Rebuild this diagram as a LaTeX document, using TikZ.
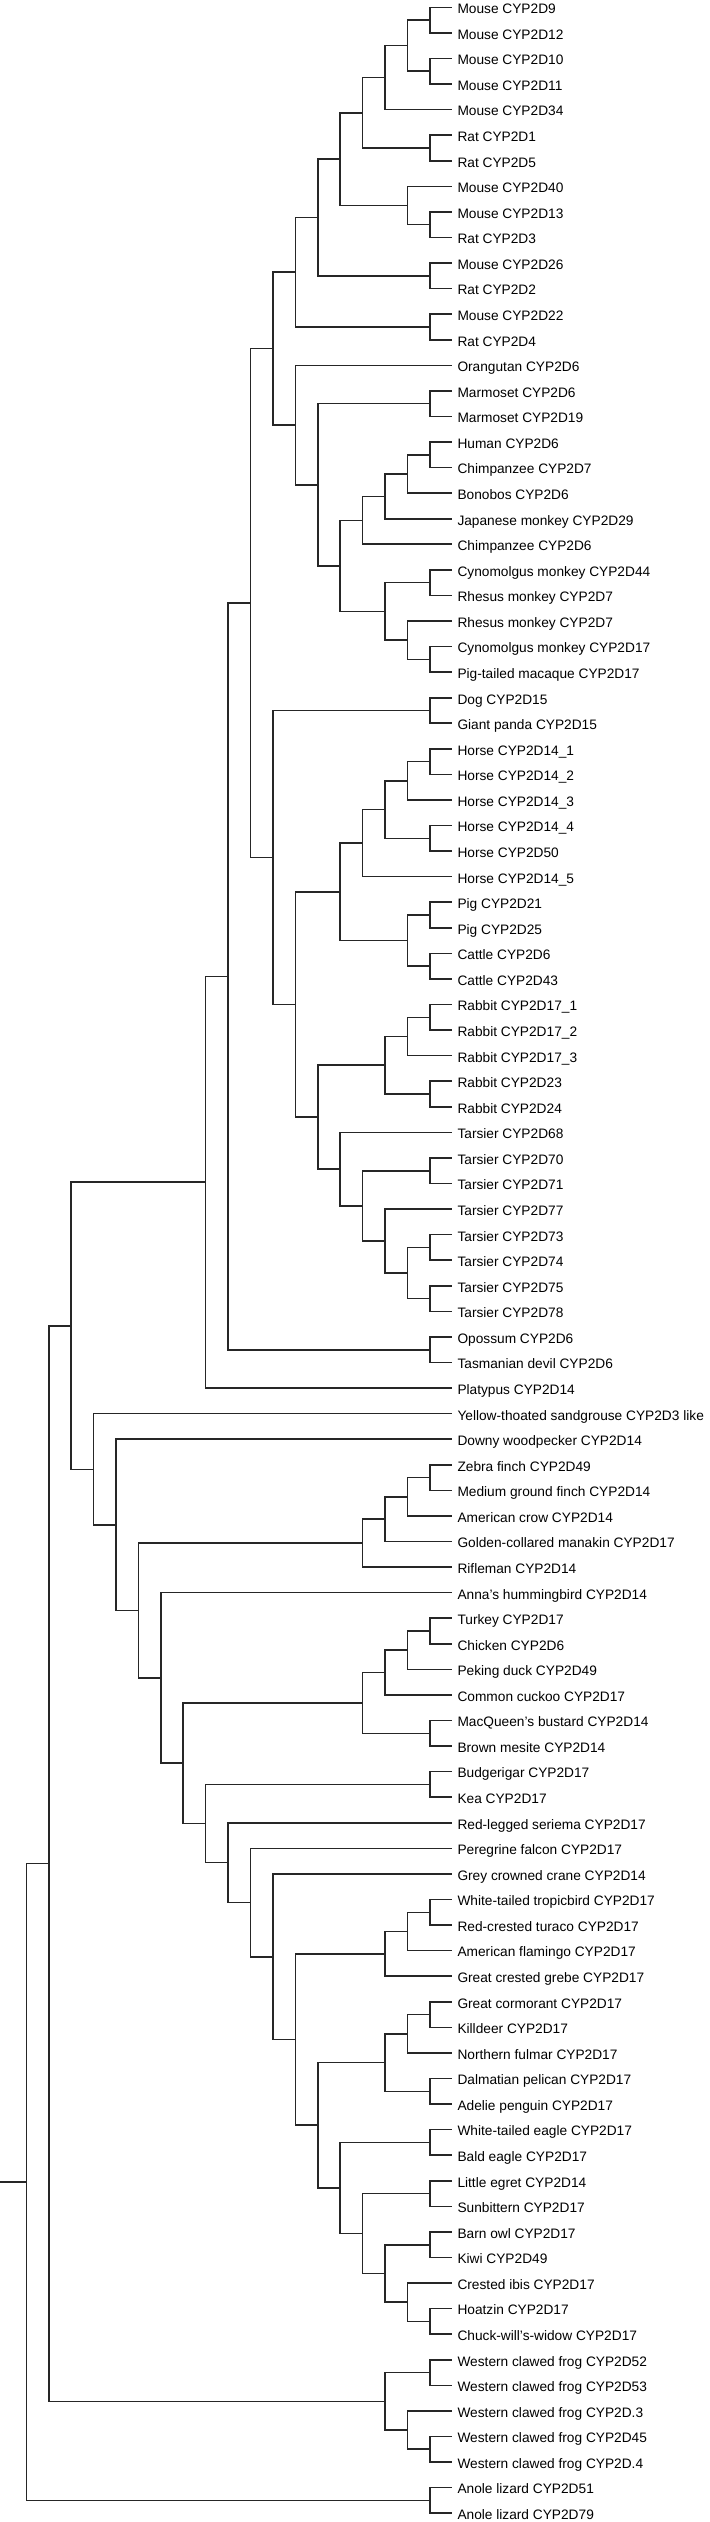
\documentclass[tikz,border=0pt]{standalone}
\usepackage{fontspec}
\setmainfont{Liberation Sans}
\tikzset{
  leaf/.style={anchor=west, inner xsep=0.1cm, inner ysep=0pt, text height=0.72em, text depth=0pt,
    font=\fontsize{7.8}{9}\selectfont},
  branch/.style={line width=0.9pt, draw=black!85}
}
\begin{document}
\begin{tikzpicture}[x=0.02cm, y=-0.51132cm]
			\useasboundingbox (0,0.7145) rectangle (709,99.345);
			\def\lx{452}
			\def\st{22.4}
			
			%Leaves
			\node[leaf] (L1) at (\lx,1) {Mouse CYP2D9};
			\node[leaf] (L2) at (\lx,2) {Mouse CYP2D12};
			\node[leaf] (L3) at (\lx,3) {Mouse CYP2D10};
			\node[leaf] (L4) at (\lx,4) {Mouse CYP2D11};
			\node[leaf] (L5) at (\lx,5) {Mouse CYP2D34};
			\node[leaf] (L6) at (\lx,6) {Rat CYP2D1};
			\node[leaf] (L7) at (\lx,7) {Rat CYP2D5};
			\node[leaf] (L8) at (\lx,8) {Mouse CYP2D40};
			\node[leaf] (L9) at (\lx,9) {Mouse CYP2D13};
			\node[leaf] (L10) at (\lx,10) {Rat CYP2D3};
			\node[leaf] (L11) at (\lx,11) {Mouse CYP2D26};
			\node[leaf] (L12) at (\lx,12) {Rat CYP2D2};
			\node[leaf] (L13) at (\lx,13) {Mouse CYP2D22};
			\node[leaf] (L14) at (\lx,14) {Rat CYP2D4};
			\node[leaf] (L15) at (\lx,15) {Orangutan CYP2D6};
			\node[leaf] (L16) at (\lx,16) {Marmoset CYP2D6};
			\node[leaf] (L17) at (\lx,17) {Marmoset CYP2D19};
			\node[leaf] (L18) at (\lx,18) {Human CYP2D6};
			\node[leaf] (L19) at (\lx,19) {Chimpanzee CYP2D7};
			\node[leaf] (L20) at (\lx,20) {Bonobos CYP2D6};
			\node[leaf] (L21) at (\lx,21) {Japanese monkey CYP2D29};
			\node[leaf] (L22) at (\lx,22) {Chimpanzee CYP2D6};
			\node[leaf] (L23) at (\lx,23) {Cynomolgus monkey CYP2D44};
			\node[leaf] (L24) at (\lx,24) {Rhesus monkey CYP2D7};
			\node[leaf] (L25) at (\lx,25) {Rhesus monkey CYP2D7};
			\node[leaf] (L26) at (\lx,26) {Cynomolgus monkey CYP2D17};
			\node[leaf] (L27) at (\lx,27) {Pig-tailed macaque CYP2D17};
			\node[leaf] (L28) at (\lx,28) {Dog CYP2D15};
			\node[leaf] (L29) at (\lx,29) {Giant panda CYP2D15};
			\node[leaf] (L30) at (\lx,30) {Horse CYP2D14\_1};
			\node[leaf] (L31) at (\lx,31) {Horse CYP2D14\_2};
			\node[leaf] (L32) at (\lx,32) {Horse CYP2D14\_3};
			\node[leaf] (L33) at (\lx,33) {Horse CYP2D14\_4};
			\node[leaf] (L34) at (\lx,34) {Horse CYP2D50};
			\node[leaf] (L35) at (\lx,35) {Horse CYP2D14\_5};
			\node[leaf] (L36) at (\lx,36) {Pig CYP2D21};
			\node[leaf] (L37) at (\lx,37) {Pig CYP2D25};
			\node[leaf] (L38) at (\lx,38) {Cattle CYP2D6};
			\node[leaf] (L39) at (\lx,39) {Cattle CYP2D43};
			\node[leaf] (L40) at (\lx,40) {Rabbit CYP2D17\_1};
			\node[leaf] (L41) at (\lx,41) {Rabbit CYP2D17\_2};
			\node[leaf] (L42) at (\lx,42) {Rabbit CYP2D17\_3};
			\node[leaf] (L43) at (\lx,43) {Rabbit CYP2D23};
			\node[leaf] (L44) at (\lx,44) {Rabbit CYP2D24};
			\node[leaf] (L45) at (\lx,45) {Tarsier CYP2D68};
			\node[leaf] (L46) at (\lx,46) {Tarsier CYP2D70};
			\node[leaf] (L47) at (\lx,47) {Tarsier CYP2D71};
			\node[leaf] (L48) at (\lx,48) {Tarsier CYP2D77};
			\node[leaf] (L49) at (\lx,49) {Tarsier CYP2D73};
			\node[leaf] (L50) at (\lx,50) {Tarsier CYP2D74};
			\node[leaf] (L51) at (\lx,51) {Tarsier CYP2D75};
			\node[leaf] (L52) at (\lx,52) {Tarsier CYP2D78};
			\node[leaf] (L53) at (\lx,53) {Opossum CYP2D6};
			\node[leaf] (L54) at (\lx,54) {Tasmanian devil CYP2D6};
			\node[leaf] (L55) at (\lx,55) {Platypus CYP2D14};
			\node[leaf] (L56) at (\lx,56) {Yellow-thoated sandgrouse CYP2D3 like};
			\node[leaf] (L57) at (\lx,57) {Downy woodpecker CYP2D14};
			\node[leaf] (L58) at (\lx,58) {Zebra finch CYP2D49};
			\node[leaf] (L59) at (\lx,59) {Medium ground finch CYP2D14};
			\node[leaf] (L60) at (\lx,60) {American crow CYP2D14};
			\node[leaf] (L61) at (\lx,61) {Golden-collared manakin CYP2D17};
			\node[leaf] (L62) at (\lx,62) {Rifleman CYP2D14};
			\node[leaf] (L63) at (\lx,63) {Anna’s hummingbird CYP2D14};
			\node[leaf] (L64) at (\lx,64) {Turkey CYP2D17};
			\node[leaf] (L65) at (\lx,65) {Chicken CYP2D6};
			\node[leaf] (L66) at (\lx,66) {Peking duck CYP2D49};
			\node[leaf] (L67) at (\lx,67) {Common cuckoo CYP2D17};
			\node[leaf] (L68) at (\lx,68) {MacQueen’s bustard CYP2D14};
			\node[leaf] (L69) at (\lx,69) {Brown mesite CYP2D14};
			\node[leaf] (L70) at (\lx,70) {Budgerigar CYP2D17};
			\node[leaf] (L71) at (\lx,71) {Kea CYP2D17};
			\node[leaf] (L72) at (\lx,72) {Red-legged seriema CYP2D17};
			\node[leaf] (L73) at (\lx,73) {Peregrine falcon CYP2D17};
			\node[leaf] (L74) at (\lx,74) {Grey crowned crane CYP2D14};
			\node[leaf] (L75) at (\lx,75) {White-tailed tropicbird CYP2D17};
			\node[leaf] (L76) at (\lx,76) {Red-crested turaco CYP2D17};
			\node[leaf] (L77) at (\lx,77) {American flamingo CYP2D17};
			\node[leaf] (L78) at (\lx,78) {Great crested grebe CYP2D17};
			\node[leaf] (L79) at (\lx,79) {Great cormorant CYP2D17};
			\node[leaf] (L80) at (\lx,80) {Killdeer CYP2D17};
			\node[leaf] (L81) at (\lx,81) {Northern fulmar CYP2D17};
			\node[leaf] (L82) at (\lx,82) {Dalmatian pelican CYP2D17};
			\node[leaf] (L83) at (\lx,83) {Adelie penguin CYP2D17};
			\node[leaf] (L84) at (\lx,84) {White-tailed eagle CYP2D17};
			\node[leaf] (L85) at (\lx,85) {Bald eagle CYP2D17};
			\node[leaf] (L86) at (\lx,86) {Little egret CYP2D14};
			\node[leaf] (L87) at (\lx,87) {Sunbittern CYP2D17};
			\node[leaf] (L88) at (\lx,88) {Barn owl CYP2D17};
			\node[leaf] (L89) at (\lx,89) {Kiwi CYP2D49};
			\node[leaf] (L90) at (\lx,90) {Crested ibis CYP2D17};
			\node[leaf] (L91) at (\lx,91) {Hoatzin CYP2D17};
			\node[leaf] (L92) at (\lx,92) {Chuck-will’s-widow CYP2D17};
			\node[leaf] (L93) at (\lx,93) {Western clawed frog CYP2D52};
			\node[leaf] (L94) at (\lx,94) {Western clawed frog CYP2D53};
			\node[leaf] (L95) at (\lx,95) {Western clawed frog CYP2D.3};
			\node[leaf] (L96) at (\lx,96) {Western clawed frog CYP2D45};
			\node[leaf] (L97) at (\lx,97) {Western clawed frog CYP2D.4};
			\node[leaf] (L98) at (\lx,98) {Anole lizard CYP2D51};
			\node[leaf] (L99) at (\lx,99) {Anole lizard CYP2D79};
			
			%Rodents
			\coordinate (N1-2) at (\lx-\st, 1.5);
			\coordinate (N3-4) at (\lx-\st, 3.5);
			\coordinate (N1-4) at (\lx-2*\st, 2.5);
			\coordinate (N1-5) at (\lx-3*\st, 3.75);
			\coordinate (N6-7) at (\lx-\st, 6.5);
			\coordinate (N1-7) at (\lx-4*\st, 5.125);
			\coordinate (N9-10) at (\lx-\st, 9.5);
			\coordinate (N8-10) at (\lx-2*\st, 8.75);
			\coordinate (N1-10) at (\lx-5*\st, 6.9375);
			\coordinate (N11-12) at (\lx-\st, 11.5);
			\coordinate (N1-12) at (\lx-6*\st, 9.21875);
			\coordinate (N13-14) at (\lx-\st, 13.5);
			\coordinate (N1-14) at (\lx-7*\st, 11.359375);
			\draw[branch] (N1-2) |- (L1.west) (N1-2) |- (L2.west);
			\draw[branch] (N3-4) |- (L3.west) (N3-4) |- (L4.west);
			\draw[branch] (N1-4) |- (N1-2) (N1-4) |- (N3-4);
			\draw[branch] (N1-5) |- (N1-4) (N1-5) |- (L5.west);
			\draw[branch] (N6-7) |- (L6.west) (N6-7) |- (L7.west);
			\draw[branch] (N1-7) |- (N1-5) (N1-7) |- (N6-7);
			\draw[branch] (N9-10) |- (L9.west) (N9-10) |- (L10.west);
			\draw[branch] (N8-10) |- (L8.west) (N8-10) |- (N9-10);
			\draw[branch] (N1-10) |- (N1-7) (N1-10) |- (N8-10);
			\draw[branch] (N11-12) |- (L11.west) (N11-12) |- (L12.west);
			\draw[branch] (N1-12) |- (N1-10) (N1-12) |- (N11-12);
			\draw[branch] (N13-14) |- (L13.west) (N13-14) |- (L14.west);
			\draw[branch] (N1-14) |- (N1-12) (N1-14) |- (N13-14);
			
			%Primates
			\coordinate (N16-17) at (\lx-\st, 16.5);
			\coordinate (N18-19) at (\lx-\st, 18.5);
			\coordinate (N18-20) at (\lx-2*\st, 19.25);
			\coordinate (N18-21) at (\lx-3*\st, 20.125);
			\coordinate (N18-22) at (\lx-4*\st, 21.0625);
			\coordinate (N23-24) at (\lx-\st, 23.5);
			\coordinate (N26-27) at (\lx-\st, 26.5);
			\coordinate (N25-27) at (\lx-2*\st, 25.75);
			\coordinate (N23-27) at (\lx-3*\st, 24.625);
			\coordinate (N18-27) at (\lx-5*\st, 22.84375);
			\coordinate (N16-27) at (\lx-6*\st, 19.671875);
			\coordinate (N15-27) at (\lx-7*\st, 17.3359375);
			\coordinate (N1-27) at (\lx-8*\st, 14.34765625);
			\draw[branch] (N16-17) |- (L16.west) (N16-17) |- (L17.west);
			\draw[branch] (N18-19) |- (L18.west) (N18-19) |- (L19.west);
			\draw[branch] (N18-20) |- (N18-19) (N18-20) |- (L20.west);
			\draw[branch] (N18-21) |- (N18-20) (N18-21) |- (L21.west);
			\draw[branch] (N18-22) |- (N18-21) (N18-22) |- (L22.west);
			\draw[branch] (N23-24) |- (L23.west) (N23-24) |- (L24.west);
			\draw[branch] (N26-27) |- (L26.west) (N26-27) |- (L27.west);
			\draw[branch] (N25-27) |- (L25.west) (N25-27) |- (N26-27);
			\draw[branch] (N23-27) |- (N23-24) (N23-27) |- (N25-27);
			\draw[branch] (N18-27) |- (N18-22) (N18-27) |- (N23-27);
			\draw[branch] (N16-27) |- (N16-17) (N16-27) |- (N18-27);
			\draw[branch] (N15-27) |- (L15.west) (N15-27) |- (N16-27);
			\draw[branch] (N1-27) |- (N1-14) (N1-27) |- (N15-27);
			
			%Other mammals
			\coordinate (N28-29) at (\lx-\st, 28.5);
			\coordinate (N30-31) at (\lx-\st, 30.5);
			\coordinate (N30-32) at (\lx-2*\st, 31.25);
			\coordinate (N33-34) at (\lx-\st, 33.5);
			\coordinate (N30-34) at (\lx-3*\st, 32.375);
			\coordinate (N30-35) at (\lx-4*\st, 33.6875);
			\coordinate (N36-37) at (\lx-\st, 36.5);
			\coordinate (N38-39) at (\lx-\st, 38.5);
			\coordinate (N36-39) at (\lx-2*\st, 37.5);
			\coordinate (N30-39) at (\lx-5*\st, 35.59375);
			\coordinate (N40-41) at (\lx-\st, 40.5);
			\coordinate (N40-42) at (\lx-2*\st, 41.25);
			\coordinate (N43-44) at (\lx-\st, 43.5);
			\coordinate (N40-44) at (\lx-3*\st, 42.375);
			\coordinate (N46-47) at (\lx-\st, 46.5);
			\coordinate (N49-50) at (\lx-\st, 49.5);
			\coordinate (N51-52) at (\lx-\st, 51.5);
			\coordinate (N49-52) at (\lx-2*\st, 50.5);
			\coordinate (N48-52) at (\lx-3*\st, 49.25);
			\coordinate (N46-52) at (\lx-4*\st, 47.875);
			\coordinate (N45-52) at (\lx-5*\st, 46.4375);
			\coordinate (N40-52) at (\lx-6*\st, 44.40625);
			\coordinate (N30-52) at (\lx-7*\st, 40);
			\coordinate (N28-52) at (\lx-8*\st, 34.25);
			\coordinate (N1-52) at (\lx-9*\st, 24.298828);
			\coordinate (N53-54) at (\lx-\st, 53.5);
			\coordinate (N1-54) at (\lx-10*\st, 38.899414);
			\coordinate (N1-55) at (\lx-11*\st, 46.949707);
			\draw[branch] (N28-29) |- (L28.west) (N28-29) |- (L29.west);
			\draw[branch] (N30-31) |- (L30.west) (N30-31) |- (L31.west);
			\draw[branch] (N30-32) |- (N30-31) (N30-32) |- (L32.west);
			\draw[branch] (N33-34) |- (L33.west) (N33-34) |- (L34.west);
			\draw[branch] (N30-34) |- (N30-32) (N30-34) |- (N33-34);
			\draw[branch] (N30-35) |- (N30-34) (N30-35) |- (L35.west);
			\draw[branch] (N36-37) |- (L36.west) (N36-37) |- (L37.west);
			\draw[branch] (N38-39) |- (L38.west) (N38-39) |- (L39.west);
			\draw[branch] (N36-39) |- (N36-37) (N36-39) |- (N38-39);
			\draw[branch] (N30-39) |- (N30-35) (N30-39) |- (N36-39);
			\draw[branch] (N40-41) |- (L40.west) (N40-41) |- (L41.west);
			\draw[branch] (N40-42) |- (N40-41) (N40-42) |- (L42.west);
			\draw[branch] (N43-44) |- (L43.west) (N43-44) |- (L44.west);
			\draw[branch] (N40-44) |- (N40-42) (N40-44) |- (N43-44);
			\draw[branch] (N46-47) |- (L46.west) (N46-47) |- (L47.west);
			\draw[branch] (N49-50) |- (L49.west) (N49-50) |- (L50.west);
			\draw[branch] (N51-52) |- (L51.west) (N51-52) |- (L52.west);
			\draw[branch] (N49-52) |- (N49-50) (N49-52) |- (N51-52);
			\draw[branch] (N48-52) |- (L48.west) (N48-52) |- (N49-52);
			\draw[branch] (N46-52) |- (N46-47) (N46-52) |- (N48-52);
			\draw[branch] (N45-52) |- (L45.west) (N45-52) |- (N46-52);
			\draw[branch] (N40-52) |- (N40-44) (N40-52) |- (N45-52);
			\draw[branch] (N30-52) |- (N30-39) (N30-52) |- (N40-52);
			\draw[branch] (N28-52) |- (N28-29) (N28-52) |- (N30-52);
			\draw[branch] (N1-52) |- (N1-27) (N1-52) |- (N28-52);
			\draw[branch] (N53-54) |- (L53.west) (N53-54) |- (L54.west);
			\draw[branch] (N1-54) |- (N1-52) (N1-54) |- (N53-54);
			\draw[branch] (N1-55) |- (N1-54) (N1-55) |- (L55.west);
			
			%Birds
			\coordinate (N58-59) at (\lx-\st, 58.5);
			\coordinate (N58-60) at (\lx-2*\st, 59.25);
			\coordinate (N58-61) at (\lx-3*\st, 60.125);
			\coordinate (N58-62) at (\lx-4*\st, 61.0625);
			\coordinate (N64-65) at (\lx-\st, 64.5);
			\coordinate (N64-66) at (\lx-2*\st, 65.25);
			\coordinate (N64-67) at (\lx-3*\st, 66.125);
			\coordinate (N68-69) at (\lx-\st, 68.5);
			\coordinate (N64-69) at (\lx-4*\st, 67.3125);
			\coordinate (N70-71) at (\lx-\st, 70.5);
			\coordinate (N75-76) at (\lx-\st, 75.5);
			\coordinate (N75-77) at (\lx-2*\st, 76.25);
			\coordinate (N75-78) at (\lx-3*\st, 77.125);
			\coordinate (N79-80) at (\lx-\st, 79.5);
			\coordinate (N79-81) at (\lx-2*\st, 80.25);
			\coordinate (N82-83) at (\lx-\st, 82.5);
			\coordinate (N79-83) at (\lx-3*\st, 81.375);
			\coordinate (N84-85) at (\lx-\st, 84.5);
			\coordinate (N86-87) at (\lx-\st, 86.5);
			\coordinate (N88-89) at (\lx-\st, 88.5);
			\coordinate (N91-92) at (\lx-\st, 91.5);
			\coordinate (N90-92) at (\lx-2*\st, 90.75);
			\coordinate (N88-92) at (\lx-3*\st, 89.625);
			\coordinate (N86-92) at (\lx-4*\st, 88.0625);
			\coordinate (N84-92) at (\lx-5*\st, 86.28125);
			\coordinate (N79-92) at (\lx-6*\st, 83.828125);
			\coordinate (N75-92) at (\lx-7*\st, 80.476563);
			\coordinate (N74-92) at (\lx-8*\st, 77.238281);
			\coordinate (N73-92) at (\lx-9*\st, 75.119141);
			\coordinate (N72-92) at (\lx-10*\st, 73.55957);
			\coordinate (N70-92) at (\lx-11*\st, 72.029785);
			\coordinate (N64-92) at (\lx-12*\st, 69.671143);
			\coordinate (N63-92) at (\lx-13*\st, 66.335571);
			\coordinate (N58-92) at (\lx-14*\st, 63.699036);
			\coordinate (N57-92) at (\lx-15*\st, 60.349518);
			\coordinate (N56-92) at (\lx-16*\st, 58.174759);
			\draw[branch] (N58-59) |- (L58.west) (N58-59) |- (L59.west);
			\draw[branch] (N58-60) |- (N58-59) (N58-60) |- (L60.west);
			\draw[branch] (N58-61) |- (N58-60) (N58-61) |- (L61.west);
			\draw[branch] (N58-62) |- (N58-61) (N58-62) |- (L62.west);
			\draw[branch] (N64-65) |- (L64.west) (N64-65) |- (L65.west);
			\draw[branch] (N64-66) |- (N64-65) (N64-66) |- (L66.west);
			\draw[branch] (N64-67) |- (N64-66) (N64-67) |- (L67.west);
			\draw[branch] (N68-69) |- (L68.west) (N68-69) |- (L69.west);
			\draw[branch] (N64-69) |- (N64-67) (N64-69) |- (N68-69);
			\draw[branch] (N70-71) |- (L70.west) (N70-71) |- (L71.west);
			\draw[branch] (N75-76) |- (L75.west) (N75-76) |- (L76.west);
			\draw[branch] (N75-77) |- (N75-76) (N75-77) |- (L77.west);
			\draw[branch] (N75-78) |- (N75-77) (N75-78) |- (L78.west);
			\draw[branch] (N79-80) |- (L79.west) (N79-80) |- (L80.west);
			\draw[branch] (N79-81) |- (N79-80) (N79-81) |- (L81.west);
			\draw[branch] (N82-83) |- (L82.west) (N82-83) |- (L83.west);
			\draw[branch] (N79-83) |- (N79-81) (N79-83) |- (N82-83);
			\draw[branch] (N84-85) |- (L84.west) (N84-85) |- (L85.west);
			\draw[branch] (N86-87) |- (L86.west) (N86-87) |- (L87.west);
			\draw[branch] (N88-89) |- (L88.west) (N88-89) |- (L89.west);
			\draw[branch] (N91-92) |- (L91.west) (N91-92) |- (L92.west);
			\draw[branch] (N90-92) |- (L90.west) (N90-92) |- (N91-92);
			\draw[branch] (N88-92) |- (N88-89) (N88-92) |- (N90-92);
			\draw[branch] (N86-92) |- (N86-87) (N86-92) |- (N88-92);
			\draw[branch] (N84-92) |- (N84-85) (N84-92) |- (N86-92);
			\draw[branch] (N79-92) |- (N79-83) (N79-92) |- (N84-92);
			\draw[branch] (N75-92) |- (N75-78) (N75-92) |- (N79-92);
			\draw[branch] (N74-92) |- (L74.west) (N74-92) |- (N75-92);
			\draw[branch] (N73-92) |- (L73.west) (N73-92) |- (N74-92);
			\draw[branch] (N72-92) |- (L72.west) (N72-92) |- (N73-92);
			\draw[branch] (N70-92) |- (N70-71) (N70-92) |- (N72-92);
			\draw[branch] (N64-92) |- (N64-69) (N64-92) |- (N70-92);
			\draw[branch] (N63-92) |- (L63.west) (N63-92) |- (N64-92);
			\draw[branch] (N58-92) |- (N58-62) (N58-92) |- (N63-92);
			\draw[branch] (N57-92) |- (L57.west) (N57-92) |- (N58-92);
			\draw[branch] (N56-92) |- (L56.west) (N56-92) |- (N57-92);
			
			%Frog, lizard and root
			\coordinate (N1-92) at (\lx-17*\st, 52.562233);
			\coordinate (N93-94) at (\lx-\st, 93.5);
			\coordinate (N96-97) at (\lx-\st, 96.5);
			\coordinate (N95-97) at (\lx-2*\st, 95.75);
			\coordinate (N93-97) at (\lx-3*\st, 94.625);
			\coordinate (N1-97) at (\lx-18*\st, 73.593617);
			\coordinate (N98-99) at (\lx-\st, 98.5);
			\coordinate (N1-99) at (\lx-19*\st, 86.046808);
			\coordinate (base) at (0, 86.046808);
			\draw[branch] (N1-92) |- (N1-55) (N1-92) |- (N56-92);
			\draw[branch] (N93-94) |- (L93.west) (N93-94) |- (L94.west);
			\draw[branch] (N96-97) |- (L96.west) (N96-97) |- (L97.west);
			\draw[branch] (N95-97) |- (L95.west) (N95-97) |- (N96-97);
			\draw[branch] (N93-97) |- (N93-94) (N93-97) |- (N95-97);
			\draw[branch] (N1-97) |- (N1-92) (N1-97) |- (N93-97);
			\draw[branch] (N98-99) |- (L98.west) (N98-99) |- (L99.west);
			\draw[branch] (N1-99) |- (N1-97) (N1-99) |- (N98-99);
			\draw[branch] (base) -- (N1-99);
			
		\end{tikzpicture}
\end{document}
